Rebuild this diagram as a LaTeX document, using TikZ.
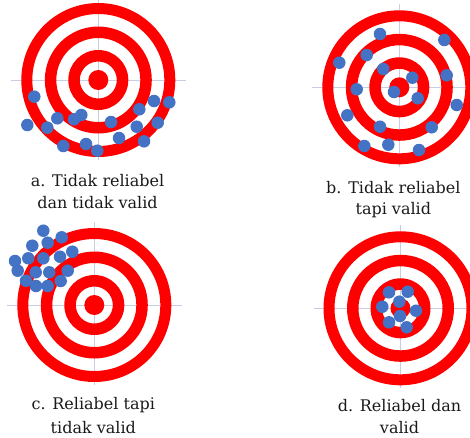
\documentclass[tikz,border=0pt]{standalone}
\usepackage{fontspec}
\setmainfont{DejaVu Serif}
\definecolor{tred}{HTML}{FF0000}
\definecolor{tdot}{HTML}{4472C4}
\definecolor{tcross}{HTML}{C8CEE2}
\definecolor{ttext}{HTML}{1A1A1A}
\tikzset{
  ring/.style={fill=tred, even odd rule},
  cross/.style={draw=tcross, line width=1pt},
  hit/.style={circle, fill=tdot, inner sep=0pt, minimum size=12.5pt},
  lbl/.style={anchor=base, inner sep=0pt, text=ttext, font=\fontsize{16}{20}\selectfont},
}
\newcommand{\target}[5]{%
  \coordinate (#1) at (#2,#3);
  \draw[cross] ([xshift=-87pt]#1) -- ([xshift=#4pt]#1);
  \draw[cross] ([yshift=83pt]#1) -- ([yshift=-80pt]#1);
  \fill[ring] (#1) circle[radius=77] circle[radius=66] circle[radius=53.5]
     circle[radius=42] circle[radius=30] circle[radius=18.5] circle[radius=10];
}
\begin{document}
\begin{tikzpicture}[x=1pt,y=-1pt]
\useasboundingbox (0,0) rectangle (470,437);
\fill[white] (0,0) rectangle (470,437);
\target{ta}{98.3}{80}{88}{}
\target{tb}{399.3}{87.3}{88}{}
\target{tc}{94.3}{305}{88}{}
\target{td}{400.5}{308.3}{88}{}
% dots a
\foreach \x/\y [count=\i] in {34.3/96.7, 27.3/125, 47.3/127.7, 57.3/118.3, 74/119.3, 81.3/115,
  63.3/146, 86/144, 97.3/150.7, 111/122, 119/138, 136.7/126.7, 139.3/109.3, 144/141.3,
  154/101, 157.7/122.7, 169.3/102.3}
  \node[hit] (a\i) at (\x,\y) {};
% dots b
\foreach \x/\y [count=\i] in {380/34, 444.3/40, 366.7/55, 339.3/62.7, 383.3/69, 412.3/77.7,
  446.7/75.3, 356.7/89.3, 394/92, 417.7/98.3, 456.7/105, 347.3/115.3, 380/126.7,
  431.7/127.3, 364.3/146, 388.3/144.7, 419/150}
  \node[hit] (b\i) at (\x,\y) {};
% dots c
\foreach \x/\y [count=\i] in {43.3/230.7, 61.7/237.3, 32.3/245.7, 47.7/242.7, 72.3/251.7,
  15/261, 28.3/258.3, 43.3/258.3, 60/256.7, 17.7/270.7, 35.7/272.3, 49.3/272.3,
  67.7/270.7, 26/280.7, 36/286, 47.7/286, 60.7/281}
  \node[hit] (c\i) at (\x,\y) {};
% dots d
\foreach \x/\y [count=\i] in {389/292.3, 407.7/291.7, 399.3/301.7, 382.3/306.7, 416/310.7,
  400/316, 389/322.3, 406.7/327.3}
  \node[hit] (d\i) at (\x,\y) {};
% labels
\node[lbl] (la1) at (97.5,186.7) {a. Tidak reliabel};
\node[lbl] (la2) at (97.5,208) {dan tidak valid};
\node[lbl] (lb1) at (393.3,193.3) {b. Tidak reliabel};
\node[lbl] (lb2) at (393.3,214.3) {tapi valid};
\node[lbl] (lc1) at (93.3,409.3) {c. Reliabel tapi};
\node[lbl] (lc2) at (93.3,433) {tidak valid};
\node[lbl] (ld1) at (399.5,411.7) {d. Reliabel dan};
\node[lbl] (ld2) at (399.5,433.3) {valid};
\end{tikzpicture}
\end{document}
